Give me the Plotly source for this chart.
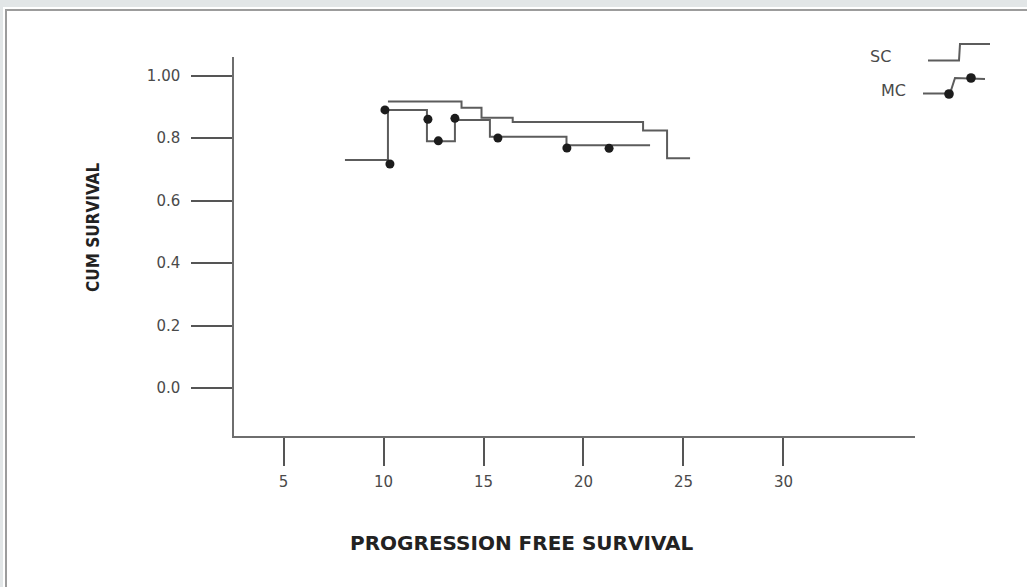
import plotly.graph_objects as go

# ---------------- data ----------------
sc_time = [10.22, 13.90, 14.90, 16.46, 22.98, 24.18, 25.33]
sc_surv = [0.917, 0.897, 0.865, 0.851, 0.824, 0.735, 0.735]

mc_time = [8.07, 10.22, 12.17, 13.57, 15.32, 19.15, 23.33]
mc_surv = [0.730, 0.890, 0.790, 0.858, 0.804, 0.777, 0.777]

mc_mark_time = [10.32, 10.07, 12.22, 12.74, 13.57, 15.72, 19.17, 21.28]
mc_mark_surv = [0.717, 0.890, 0.860, 0.791, 0.863, 0.800, 0.768, 0.767]

x_ticks = [5, 10, 15, 20, 25, 30]
y_ticks = [0.0, 0.2, 0.4, 0.6, 0.8, 1.0]
y_tick_text = ["0.0", "0.2", "0.4", "0.6", "0.8", "1.00"]

series_names = ["SC", "MC"]
x_title = "PROGRESSION FREE SURVIVAL"
y_title = "CUM SURVIVAL"

# ---------------- figure ----------------
W, H = 1027, 587
LINE = "#5c5c5c"
DOT = "#1c1c1c"
TXT = "#4a4a4a"


def fx(p):
    return p / W


def fy(p):
    return 1 - p / H


fig = go.Figure()
fig.add_trace(go.Scatter(x=sc_time, y=sc_surv, mode="lines", name=series_names[0],
                         line=dict(shape="hv", color=LINE, width=2), showlegend=False))
fig.add_trace(go.Scatter(x=mc_time, y=mc_surv, mode="lines", name=series_names[1],
                         line=dict(shape="hv", color=LINE, width=2), showlegend=False))
fig.add_trace(go.Scatter(x=mc_mark_time, y=mc_mark_surv, mode="markers", name=series_names[1] + " censored",
                         marker=dict(color=DOT, size=9), showlegend=False))

shapes = []
# page frame
shapes.append(dict(type="rect", xref="paper", yref="paper", layer="below",
                   x0=fx(3), x1=fx(1040), y0=fy(600), y1=fy(7),
                   fillcolor="white", line=dict(width=0)))
shapes.append(dict(type="rect", xref="paper", yref="paper", layer="below",
                   x0=fx(6), x1=fx(1040), y0=fy(600), y1=fy(10),
                   fillcolor="white", line=dict(color="#9c9c9c", width=2)))

# hand-drawn style legend glyphs
def path(points):
    return "M " + " L ".join(f"{fx(a):.5f},{fy(b):.5f}" for a, b in points)

shapes.append(dict(type="path", xref="paper", yref="paper",
                   path=path([(928, 60.5), (959, 60.5), (960, 44), (990, 44)]),
                   line=dict(color=LINE, width=2)))
shapes.append(dict(type="path", xref="paper", yref="paper",
                   path=path([(923, 93.5), (950, 93.5), (955, 78), (985, 79)]),
                   line=dict(color=LINE, width=2)))
for cx, cy in [(949, 94), (971, 78)]:
    r = 4.8
    shapes.append(dict(type="circle", xref="paper", yref="paper",
                       x0=fx(cx - r), x1=fx(cx + r), y0=fy(cy + r), y1=fy(cy - r),
                       fillcolor=DOT, line=dict(width=0)))

def note(text, x, y, font, angle=0):
    return dict(text=text, x=fx(x), y=fy(y), xref="paper", yref="paper",
                xanchor="center", yanchor="middle", showarrow=False,
                textangle=angle, font=font)

annotations = [
    note(series_names[0], 880.5, 57, dict(family="DejaVu Sans", size=16, color=TXT)),
    note(series_names[1], 893.5, 90, dict(family="DejaVu Sans", size=16, color=TXT)),
    note("<b>" + x_title + "</b>", 522, 543, dict(family="DejaVu Sans", size=20, color="#222222")),
    note("<b>" + y_title + "</b>", 93, 228,
         dict(family="Liberation Sans Narrow, DejaVu Sans Condensed, Arial Narrow", size=17,
              color="#222222"), angle=-90),
]

fig.update_layout(
    width=W, height=H,
    margin=dict(l=0, r=0, t=0, b=0),
    paper_bgcolor="#e2e6e7",
    plot_bgcolor="white",
    shapes=shapes,
    annotations=annotations,
    xaxis=dict(domain=[fx(234), fx(915)], range=[2.521, 36.58],
               showline=True, linecolor="#6e6e6e", linewidth=1.5,
               ticks="outside", ticklen=28, tickwidth=1.5, tickcolor="#555555",
               tickvals=x_ticks, ticklabelstandoff=3,
               showgrid=False, zeroline=False,
               tickfont=dict(family="DejaVu Sans", size=15, color=TXT)),
    yaxis=dict(domain=[1 - 436 / H, 1 - 57 / H], range=[-0.1529, 1.0592],
               showline=True, linecolor="#6e6e6e", linewidth=1.5,
               ticks="outside", ticklen=41, tickwidth=1.5, tickcolor="#555555",
               tickvals=y_ticks, ticktext=y_tick_text, ticklabelstandoff=8,
               showgrid=False, zeroline=False,
               tickfont=dict(family="DejaVu Sans", size=15, color=TXT)),
)

fig.write_html("out.html", config={"displayModeBar": False},
               post_script="document.body.style.margin='0';document.body.style.overflow='hidden';")
